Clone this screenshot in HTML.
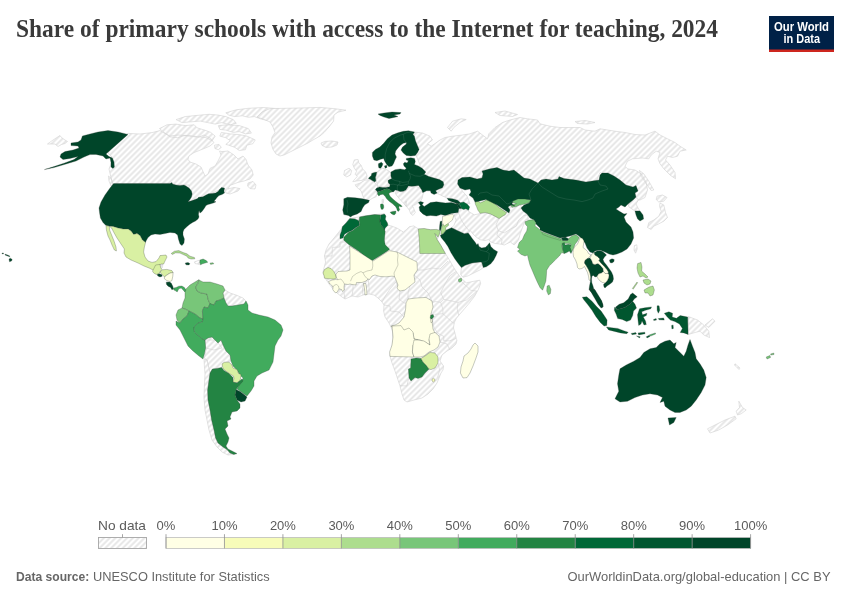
<!DOCTYPE html>
<html lang="en"><head><meta charset="utf-8">
<title>Share of primary schools with access to the Internet for teaching, 2024</title>
<style>
html,body{margin:0;padding:0;background:#fff;}
body{width:850px;height:600px;overflow:hidden;position:relative;font-family:"Liberation Sans",sans-serif;}
svg{position:absolute;left:0;top:0;}
.title{font-family:"Liberation Serif",serif;font-weight:bold;font-size:24.5px;fill:#3a3a3a;}
.lg{font-family:"Liberation Sans",sans-serif;font-size:13px;fill:#5b5b5b;}
.ft{font-family:"Liberation Sans",sans-serif;font-size:12.8px;fill:#666;}
.ftb{font-weight:bold;}
.logo{font-family:"Liberation Sans",sans-serif;font-weight:bold;font-size:12px;fill:#fff;}
.nd{fill:url(#hatch);stroke:#d2d2d2;stroke-width:0.6;stroke-linejoin:round;}
.bd{fill:none;stroke:#d2d2d2;stroke-width:0.6;}
.bi{fill:none;stroke:#2f3b33;stroke-opacity:0.45;stroke-width:0.5;}
.bl{fill:none;stroke:#fff;stroke-opacity:0.18;stroke-width:0.5;}
.c{stroke:#2f3b33;stroke-opacity:0.55;stroke-width:0.5;stroke-linejoin:round;}
</style></head>
<body>
<svg width="850" height="600" viewBox="0 0 850 600">
<defs>
<pattern id="hatch" patternUnits="userSpaceOnUse" width="4.1" height="4.1" patternTransform="rotate(-45 2 2)">
<rect width="4.1" height="4.1" fill="#fff"/>
<path d="M -1,2.05 l 7,0" stroke="#e5e5e5" stroke-width="1.8"/>
</pattern>
</defs>
<rect width="850" height="600" fill="#fff"/>
<text class="title" x="16" y="37.4" textLength="702" lengthAdjust="spacingAndGlyphs">Share of primary schools with access to the Internet for teaching, 2024</text>
<g>
<rect x="769" y="16" width="65" height="36" fill="#002147"/>
<rect x="769" y="49.5" width="65" height="2.5" fill="#ce261e"/>
<text class="logo" x="774" y="30.5" textLength="55" lengthAdjust="spacingAndGlyphs">Our World</text>
<text class="logo" x="783.5" y="42.8" textLength="36.5" lengthAdjust="spacingAndGlyphs">in Data</text>
</g>
<g id="map">
<path class="nd" d="M128,133.4 L140,134 L152,132.6 L160,130.6 L164,133 L170,136 L178,135 L190,136 L198,137.4 L204,135 L210,138 L214,142.6 L210,146 L204,148.6 L194,152.6 L189,156 L188,159.4 L190,162 L196,164 L201,167 L203,171.4 L205,176 L208,174 L210,168.4 L215,166 L218,161 L221,155 L219.6,151 L222,151.6 L228,151 L234,155 L238,159 L243,156 L246,159.4 L248,165 L252,170 L253.2,175 L250,179 L244,181 L238,182.4 L230,185.4 L228,189 L234,187.4 L240,188.6 L238,191 L230,194 L226,193 L225,189 L221,189 L204,197 L189,202 L189,185 L113,185 L111.6,180 L110.4,175 L109,169 L111,164 L112,157 L108,153 L110,149Z M159.5,128.6 L167,124.8 L176.1,124.1 L185.1,125.6 L194.2,124.8 L197.2,127.9 L204.7,130.1 L210.7,132.4 L215.2,136.1 L212.2,140.7 L206.2,137.7 L200.2,136.9 L192.7,136.1 L185.1,135.4 L177.6,137.7 L170.1,136.9 L164,132.4Z M176.1,119.6 L185.1,116.6 L200.2,115.1 L209.2,114.3 L218.3,115.1 L225.8,116.6 L233.3,119.6 L236.3,123.3 L230.3,124.8 L221.3,122.6 L215.2,124.1 L207.7,122.6 L200.2,121.1 L191.1,121.8 L182.1,122.6Z M225.8,112.8 L236.3,109.8 L248.4,108.3 L263.4,107.5 L278.5,108.7 L275.5,112.8 L271,118.1 L266.4,120.3 L260.4,118.8 L254.4,116.6 L248.4,117.3 L242.3,115.8 L234.8,116.6 L228.8,115.1Z M218.3,125.6 L227.3,124.8 L239.3,125.6 L248.4,128.6 L251.4,133.1 L245.4,133.9 L239.3,131.6 L233.3,132.4 L225.8,130.1 L219.8,129.4Z M221.3,132.4 L230.3,133.9 L239.3,134.6 L246.9,136.1 L255.2,139.9 L252.9,143.7 L246.9,145.2 L245.4,149.7 L239.3,150.5 L234.8,147.4 L228.8,145.2 L225.8,144.4 L230.3,140.7 L225.8,137.7 L219.8,136.1Z M214.5,145.2 L219,144.4 L221.3,147.4 L218.3,149.7 L214.9,148.5Z M248,183 L253,181.4 L256,185 L255,189 L250,188.6 L247.6,186Z M108.4,176 L111,178 L113,184 L111,186 L109,181Z"/>
<path class="nd" d="M257,117 L262,112 L270,108.6 L300,108 L320,107.4 L334,108.6 L346,110.2 L338,112.2 L334,115 L333.6,121 L329,127 L324,132.6 L320,136 L314,139.4 L308,143 L300,147 L292,151 L284,155 L280,156 L276,154 L273,149.4 L271,143 L272,137 L275,132.6 L273,127 L270,122 L264,119.4Z"/>
<path class="nd" d="M321,143 L325,141.4 L332,141 L338,142 L337,145 L332,147 L326,147.4 L322,145.4Z"/>
<path class="nd" d="M413.8,132 L422.5,133 L430,136.2 L432.5,140 L427.5,143.8 L431.2,146.2 L440,140 L445,137.5 L452.5,136.2 L462.5,135 L470,133.8 L477.5,131.2 L482.5,135 L487.5,138.8 L488.8,133.8 L495,127.5 L502.5,122.5 L510,120 L520,117.5 L527.5,118.8 L537.5,120 L540,123.8 L550,126.2 L560,127.5 L570,127.5 L580,127.5 L585,130 L595,131.2 L600,128.8 L615,131.2 L625,132.5 L635,134.5 L645,135 L655,131.2 L660,135 L667.5,138.8 L675,142.5 L680,146.2 L686.2,150 L680,151.2 L677.5,156.2 L672.5,157.5 L667.5,156.2 L665.5,160 L670,165 L675,172.5 L675.5,178.8 L670,175 L663.8,168.8 L660,163.8 L658,158.8 L660,152.5 L656.2,151.2 L651.2,155 L648.8,158.8 L642.5,158 L632.5,158.8 L627.5,161.2 L625,166.2 L627.5,168.8 L635,170 L641.2,173.8 L646.2,182.5 L647.5,190 L645,197.5 L640,200 L635,200 L625,190 L600,172.5 L595,185 L560,182.5 L537.5,185 L495,172.5 L460,186.2 L462.5,191.2 L467,196.2 L470,203.8 L457.5,202.5 L447,198 L435,192.5 L430,190 L420,185 L420,165 L415,152.5Z M447.5,127.5 L452.5,121.2 L461.2,118.8 L466.2,119.5 L460,122.5 L453.8,127.5 L451.2,131.2Z M495,112.5 L505,111 L517.5,114.5 L512.5,116.5 L500,115.5Z M575,121.5 L585,120.5 L595,122.5 L587.5,124 L577.5,123.5Z M639.5,170.5 L643.8,173.8 L648.8,181.2 L653.8,190 L651.2,190.5 L646.2,183.8 L641.2,176.2Z"/>
<path class="nd" d="M657,196.2 L662.5,195 L667,197.5 L663.8,201.2 L658.8,202 L656.2,199.5Z M660,203 L663.8,205 L665.5,212.5 L667.5,217.5 L663.8,221.2 L658.8,223.8 L653.8,226.2 L651.2,229.5 L647.5,227.5 L648.8,222.5 L653.8,220 L658.8,216.2 L661.2,211.2 L659.5,206.2Z"/>
<path class="nd" d="M628,204 L633,200 L636,197 L638.4,200 L636,204 L638,208 L640,211 L635,211 L632,209 L629,207Z"/>
<path class="nd" d="M634.4,245.6 L636.8,244.8 L637.2,249 L635.6,253.2 L634,250Z"/>
<path class="nd" d="M354.3,159.9 L358.1,159.5 L358.8,162.9 L361.1,165.2 L362.6,168.9 L365.6,172 L367.1,175.7 L366.4,178.7 L362.6,180.2 L356.6,181 L352.8,181.7 L355.1,178.7 L357.3,176.5 L355.1,174.2 L356.6,171.2 L354.3,168.2 L352.8,164.4Z M344.5,170.5 L349,168.2 L351.7,170.5 L350.5,175 L346.8,176.9 L343.8,175Z"/>
<path class="nd" d="M359.6,183.3 L364.8,180.2 L370.1,179.5 L375.4,183.3 L377.7,186.3 L376.9,188.5 L375.8,190.8 L376.9,193.8 L376.1,196.8 L372.4,198.3 L368.6,200.6 L364.1,199.1 L362.6,195.3 L361.1,190.8 L356.6,187 L355.1,184.8Z M381.9,199.8 L383.4,199.5 L383.5,203.1 L382.2,203.1Z"/>
<path class="nd" d="M376.9,172 L382.2,168.2 L385.2,168.9 L390.5,172 L391.2,175.7 L392,178.7 L389.7,179.5 L388.2,181.7 L389.7,184 L388.2,186.3 L383.7,187 L378.4,187 L376.9,183.3 L376.1,180.2 L375.8,177.2 L376.9,174.2Z"/>
<path class="nd" d="M396.5,190.8 L403.3,192 L407,190 L408.5,187 L415.3,186.3 L419.8,187.8 L422.1,190 L423.6,192.3 L422.8,195.3 L422.1,198.3 L420.6,201.3 L418.3,202.1 L418.3,202.6 L415.3,204.8 L412.3,205.6 L413.8,208.6 L415.3,212.4 L413,215.4 L410.8,213.9 L409.3,210.1 L407,207.1 L404.8,204.1 L406.3,201.1 L406.3,206.6 L404,203.6 L400.2,199.8 L397.2,196.1 L395,193Z"/>
<path class="nd" d="M688.2,316.5 L697.5,320 L703.8,325 L708.8,331.2 L709.5,337.5 L703.8,335 L700,331.2 L695,332.5 L688.2,334.5Z M705,325 L712.5,318.8 L715,321.2 L708.8,327.5Z"/>
<path class="nd" d="M738.8,401.2 L742.5,407.5 L746.2,410 L741.2,413.8 L737.5,415 L736.2,411.2 L739.5,407.5Z M707.5,428.8 L715,425 L725,420 L735,416.2 L736.2,418.8 L727.5,425 L718.8,430 L710,433Z"/>
<path class="nd" d="M735,363.8 L740,368 L739,369.5 L734.5,365Z"/>
<path class="nd" d="M349.8,218.4 L359.6,216.9 L374.6,214.6 L384.4,213.9 L385.9,216.1 L385.2,219.2 L387.4,222.9 L387.9,225.2 L391.2,225.9 L397.2,228.2 L403.3,232 L406.3,229.7 L409.3,226.7 L413.8,225.9 L418.3,228.9 L430.4,229.7 L440.2,230.5 L438.6,236.5 L437.1,239.5 L440.9,245.5 L445.4,253.5 L450,261 L454,268 L458,274 L461,278 L466.3,282.8 L473.8,281.3 L479.8,280.2 L480.6,283.6 L478.3,289.6 L474.5,296.4 L469.3,303.1 L464.8,308.4 L460.2,313.7 L456.5,318.2 L454.2,322.7 L453.5,328 L455,333.3 L456.5,339.3 L457,340 L456,344 L452,348 L447,351 L442,355 L440,361 L443.6,366 L443,370 L441,373 L439,378 L437,383 L433,389 L428,394 L422,398 L414,400 L407,402 L404,400 L402,394 L400,386 L398,380 L395,371 L392,363 L390,356.4 L390,354.6 L392,347 L393,339 L392.4,331 L391,327 L389,323 L385,317 L383.6,311 L384,305 L382,302 L378,298 L374,295 L369,294 L363,295 L358,297 L352,296 L345,299 L342,297 L337,293 L333,289 L329,284 L325,278 L323,272 L324,268 L325.6,262 L324.4,256 L326,250 L329,244 L334,238Z"/>
<path class="nd" d="M225,290 L230,293 L236,295 L243,298 L246,301 L244,304 L238,305 L232,306 L228,306 L226,303 L224,298 L223,293Z"/>
<path class="nd" d="M205,340 L221,340 L223,345 L226,351 L230,355 L231,361 L227,362 L223,363 L221.6,367.6 L217,368.4 L212.4,369 L210,373 L207,360 L204.4,358 L206,350Z M205,340 L208,338 L212,337 L218,343 L222,348 L214,350 L205.6,348Z"/>
<path class="nd" d="M204,359 L207,360 L210,373 L209,380 L207.6,390 L208,400 L210,410 L211.6,420 L214,430 L215.6,438 L218,443 L223,447 L227,449.6 L230,453 L234,454.4 L228,455 L222,452 L217,447 L212,440 L209,430 L207,420 L205,410 L204,398 L204.4,386 L205,374 L204.4,366Z"/>
<path class="nd" d="M194.4,261.9 L196.9,261 L200,260 L199.8,262.5 L200.6,264.8 L197.5,264 L195,263.5Z"/>
<path class="nd" d="M160.6,264.4 L162.8,263.8 L162.5,267.5 L161,268.5Z"/>
<path class="nd" d="M453.9,214.8 L458.4,212.6 L460.7,208.8 L465.2,208.8 L468.2,211.1 L470.5,212.6 L474.2,214.8 L478,214.1 L480.2,213.3 L485.5,212.6 L490.8,214.1 L495.3,216.4 L499.1,218.6 L502.1,216.4 L505.1,214.8 L506.6,212.6 L508.9,209.6 L510.4,206.6 L511.9,207.3 L519.4,205.1 L522.4,206.6 L525.4,211.1 L527.7,214.8 L528.4,219.4 L525.4,220.1 L522.4,227.7 L520.2,233.7 L518.6,239.7 L516.4,242.7 L514.1,245 L510.4,242 L504.3,245 L501.3,244.2 L495.3,243.5 L490.8,242 L488.5,239.7 L484.8,240.5 L480.2,239.7 L476.5,237.4 L472.7,233.7 L470.5,230.7 L468.2,232.9 L464.4,233.7 L457.7,230.7 L451.6,227.7 L453.9,225.4 L456.1,220.1Z"/>
<path class="nd" d="M461.4,267.6 L465.2,265.3 L472,263 L480.2,262 L481.7,262.3 L483.3,267.6 L480.2,269.8 L474.2,272.8 L468.2,275.8 L462.9,277.3 L460.7,274.3Z"/>
<path class="nd" d="M47.5,144 L53,140 L60,135.5 L61.5,137.5 L65,140 L67.5,141.5 L65,143.5 L61.5,144.5 L58,146.5 L55,144 L51,144Z"/>
<path class="bd" d="M369,294 L369,287 L368,278"/>
<path class="bd" d="M363,295 L362.4,289 L363.6,283.4"/>
<path class="bd" d="M352,296 L353,289 L353,284"/>
<path class="bd" d="M345,299 L344,293 L345,286"/>
<path class="bd" d="M384,305 L390,306 L390.4,311 L399,312 L404,317"/>
<path class="bd" d="M396,282 L400,291 L399,299 L404,303 L406,303"/>
<path class="bd" d="M382,302 L386,295 L390,289 L396,282"/>
<path class="bd" d="M410,286 L408,293 L408,299"/>
<path class="bd" d="M414,275 L420,280 L422,287 L428,293 L432,301"/>
<path class="bd" d="M417.4,270 L424,270 L432,268 L440,269 L448,261"/>
<path class="bd" d="M324.4,256 L332,256 L332.4,247.4 L340,247 L340,242 L350,242"/>
<path class="bd" d="M440,342 L447,344 L450,350"/>
<path class="bd" d="M438,363 L439.6,370 L437.6,377.6"/>
<path class="bd" d="M400,385.6 L407,386 L408.4,379"/>
<path class="bd" d="M442.9,313.7 L434.6,314.4"/>
<path class="bd" d="M432.4,319.7 L433.9,327.2 L437.7,333.3 L443.7,336.3 L443.7,340.8 L449.7,340.8 L456,338.5"/>
<path class="bd" d="M440.7,302.4 L442.9,309.2 L442.9,313.7 L452.7,322.7 L454.5,323"/>
<path class="bd" d="M443.7,299.4 L440.7,302.4 L436.1,301.6 L430.1,302.4"/>
<path class="bd" d="M458,302.4 L451.2,300.9 L443.7,299.4 L440.7,292.6 L445.2,283.6 L449.7,276 L455.7,271.5"/>
<path class="bd" d="M461.7,282 L467,286.6 L470.8,290.3 L476.8,291.1 L466.3,300.1 L458,302.4 L457.2,309.2 L458.7,315.2"/>
<path class="bd" d="M498.3,230.7 L504.3,232.9 L510.4,229.2 L516.4,226.1 L518.6,220.1 L523.9,215.6 L527.7,214.8"/>
<path class="bd" d="M499.1,218.6 L496.1,224.6 L498.3,230.7 L496.8,235.2 L502.1,239.7 L501.3,244.2"/>
<path class="bd" d="M458.4,212.6 L461.4,220.1 L465.2,226.1 L469.7,231.4"/>
<path class="c" fill="#004529" d="M128,134.4 L118,132 L108,130.6 L98,132 L90,134 L82.4,136 L81,140 L78,142 L71,143 L71,145.6 L78,146 L79,148 L73,150 L65,151.6 L61,154 L60,157 L63,159.6 L70,158.4 L78,156.6 L74,159.6 L64,163.2 L54,166.6 L44.4,169.6 L54,167.6 L66,164 L76,161 L84,157 L90,154.6 L96,154.4 L103,156 L106,159 L110,158 L111,162.4 L111,167 L113,168.4 L114.4,167 L114,162 L112.4,158 L109,156.6 L106,154Z"/>
<path class="c" fill="#004529" d="M113.6,183.6 L169,183.4 L170,183.5 L172,182.5 L172.5,184 L176,185 L180,185.5 L184,185 L186,186 L189,188 L191.5,191 L192.2,194 L191.5,197 L190,199.5 L188,201.8 L191.5,200.8 L195,199.5 L197.5,198.5 L198.5,197.2 L203,196.8 L206,195 L208.5,193.8 L212,193.5 L215.5,193 L218,191.5 L219.5,189.5 L221.5,187.5 L224.5,188 L224,191 L224.5,193 L222,194.5 L219,195.5 L217,197.5 L215.5,199.5 L214,201.2 L216,201.8 L214,202.8 L210,204 L208,204.5 L206,205.5 L204.5,208 L202,211.5 L200,213 L199,210.5 L198.5,214.5 L199,217 L198,219 L195.5,221 L192.5,222.5 L189.5,224.5 L186.5,227 L184,229.5 L183,232 L183,235 L184.4,239 L184,243 L182,245.6 L180,244 L178.4,239 L177.6,235 L175,233 L170,232.4 L165,233.6 L160,234.4 L155,234 L151,235 L148,237.6 L146,241 L145.6,242.4 L142.4,240 L140,235.6 L137,233.6 L133.6,234.4 L131,231 L128,229 L123,229 L118,228 L113,226.4 L106,225.6 L103,222.4 L100.4,218 L99.6,213 L99,208 L101,202 L105,195 L110,188Z"/>
<path class="c" fill="#d9f0a3" d="M109.4,226.4 L113,226.4 L118,228 L123,229 L128,229 L131,231 L133.6,234.4 L137,233.6 L140,235.6 L142.4,240 L145.6,242.4 L144.4,247 L143.6,252 L145,257 L148,261 L152,262.4 L156,261.6 L159,258 L160,255.6 L166,255 L167,257 L165,261 L163.6,264 L161,264 L159,265.6 L157,265.6 L155.6,268 L153.6,270.4 L150,268.4 L144,266 L138,263 L131,260 L126,257 L124,253 L124.4,249 L121,244 L117,238 L113.6,232 L111.6,228Z M106,225.6 L109.4,226.4 L109.6,230 L111.6,235 L114,241 L116,247 L116.4,251 L114.4,250 L112,245 L110,240 L108,236 L106.4,230Z"/>
<path class="c" fill="#004529" d="M378,114 L384,113 L392,112 L401,112.6 L400,114 L394,115 L398,116.6 L394,117.4 L389,118.6 L384,117 L380,115.4Z"/>
<path class="c" fill="#004529" d="M403.3,131.3 L408.5,130.8 L414.5,132 L413,134.3 L414.5,136.6 L415.3,140.3 L416.8,144.1 L419.1,149.4 L417.6,152.4 L415.3,155.4 L410.8,156.1 L406.3,155.4 L403.3,153.1 L401,150.1 L402.5,147.1 L406.3,144.1 L406.3,142.6 L403.3,143.3 L400.2,145.6 L398,147.9 L395.7,150.9 L395,153.9 L396.5,156.9 L395,159.9 L393.5,163.7 L392,165.9 L388.9,166.7 L386.7,164.4 L384.4,160.7 L383.7,158.4 L380.7,159.2 L376.9,160.7 L373.9,159.9 L372.4,156.1 L372.4,152.4 L375.4,149.4 L379.9,147.1 L383.7,143.3 L387.4,138.8 L392,135.1 L398,132.8Z"/>
<path class="c" fill="#004529" d="M406.3,158.4 L410.8,157.7 L414.5,158.4 L415.3,161.4 L414.5,164.4 L418.3,165.9 L422.1,168.2 L425.8,172 L424.3,174.2 L428.9,176.5 L434.1,178 L439.4,179.5 L443.2,181.7 L443.9,184.8 L442.4,187.8 L438.6,189.3 L435.6,190.8 L437.1,193 L434.1,194.5 L431.1,193 L430.4,190.8 L426.6,190.8 L423.6,192.3 L422.6,192.6 L421.8,190.1 L420.1,187.6 L418.5,185.5 L415.1,185.9 L411.8,186.3 L408.4,185.9 L407.2,188 L405.9,190.1 L403.4,191.3 L400.1,191.6 L397.6,190.5 L395.1,190.1 L393.8,191.7 L391.7,191.9 L390.9,190.2 L389.6,189.8 L387.1,188.8 L384.6,189.2 L382.1,190.5 L379.6,191.3 L377.5,191.9 L375.4,189.6 L376.7,188 L379.6,186.9 L382.5,187.4 L385.9,187.6 L389.6,186.7 L390.1,184.6 L388.4,183 L388,180.5 L390.1,179.2 L391.7,178.8 L390.9,175.9 L390.9,172.1 L395,169.7 L400.2,168.9 L404.8,169.7 L406.3,168.2 L404,165.9 L403.3,163.7 L404.8,162.2 L407,162.9 L408.5,160.7 L406.3,159.9Z"/>
<path class="c" fill="#004529" d="M378.4,163.7 L381.4,162.2 L382.9,163.7 L382.2,165.9 L380.7,168.2 L378.9,167.9 L378.4,165.9Z M384.4,165.9 L386.7,165.2 L387,167.4 L385.2,168.2Z"/>
<path class="c" fill="#004529" d="M371.7,173.4 L374.2,172.4 L376.7,172.1 L376.3,174.6 L375.4,177.5 L375.9,180.5 L375,182.1 L372.9,180.9 L370.8,179.6 L368.3,178.4 L369.6,177.1 L371.3,175.4Z"/>
<path class="c" fill="#004529" d="M343.8,198.8 L347.5,197.3 L355.1,197.8 L362.6,198.8 L369.4,200.3 L368.6,202.6 L364.8,204.8 L362.6,207.9 L361.1,211.6 L357.3,213.9 L352.8,215.4 L350.5,216.9 L348.3,215.4 L343.8,214.6 L342.7,210.1 L343.8,204.8Z"/>
<path class="c" fill="#238443" d="M377.5,192.2 L379.6,191.3 L382.1,190.5 L384.6,189.2 L387.1,188.8 L389.6,189.8 L390.9,190.2 L391.9,191.9 L390.1,192.6 L388.8,193.8 L390.1,196.3 L392.6,198.8 L395.5,201.3 L398.4,203.4 L400.9,205.1 L402.2,206.4 L400.9,206.8 L399.3,205.9 L398.8,207.6 L399.7,209.7 L398.4,211.4 L397.2,210.5 L396.7,208.4 L395.5,206.4 L392.6,203.8 L389.2,201.3 L386.7,198.8 L385.1,196.3 L383,194.2 L380.5,194.7 L378.8,195.9 L377.5,194.2Z M390.1,212.2 L392.6,211.4 L395.9,211.1 L395.7,213.5 L394.2,215 L391.7,213.9Z M380.5,204.3 L382.1,203.8 L383.5,204.7 L383.8,207.2 L383,209.3 L381.3,209.3 L380.5,206.8Z"/>
<path class="c" fill="#006837" d="M349.8,218.4 L355.1,218.9 L358.8,220.7 L359.6,225.2 L355.8,227.4 L352,230.5 L348.3,232 L344.5,234.2 L343,238 L340,238.7 L340,235 L341.5,231.2 L342.3,226.7 L346,222.9Z"/>
<path class="c" fill="#238443" d="M359.6,216.9 L365.6,215.8 L374.6,214.6 L380.7,214.9 L379.9,220.7 L380.7,224.4 L383.7,228.2 L385.2,231.2 L384.4,240.2 L385.2,244.8 L389.7,249.3 L386.7,251.5 L378.4,256.8 L371.6,261 L368.6,259.1 L358.1,250.8 L349,244.8 L343.8,240.2 L343.8,237.2 L348.3,232.4 L352.8,230.5 L356.3,227.4 L359.9,225.2 L359.1,220.7Z"/>
<path class="c" fill="#006837" d="M381,214.9 L384.4,213.9 L385.9,216.1 L385.2,219.2 L387.4,222.9 L387.9,225.2 L385.2,227.9 L384.4,230.5 L383.4,227.9 L380.7,224.4 L379.9,220.7Z"/>
<path class="c" fill="#addd8e" d="M418.3,228.9 L424.3,228.5 L430.4,229.7 L436.4,229.4 L440.2,230.5 L439.4,234.2 L437.9,237.2 L436.4,235 L434.9,233.5 L437.1,239.5 L440.9,245.5 L445.4,253.5 L419.8,253.5 L419.5,243.3Z"/>
<path class="c" fill="#004529" d="M418.3,202.6 L420.6,201.4 L423.6,202.6 L422.1,204.8 L424.3,206.4 L430.4,202.6 L436.4,201.8 L445.4,202.9 L451.4,202.6 L456.7,204.1 L459,207.9 L458.2,212.4 L451.4,213.4 L445.4,215.4 L440.9,214.6 L436.4,216.1 L430.4,215.4 L426.6,216.1 L422.8,213.9 L419.8,210.9 L419.1,207.1 L420.6,205.6Z"/>
<path class="c" fill="#004529" d="M440.2,221.4 L441.8,221 L441.8,225.2 L440.6,230.5 L439.4,229.7 L439.7,225.2Z"/>
<path class="c" fill="#addd8e" d="M442.4,224.4 L447.7,222.2 L448.7,225.2 L445.4,227.9 L446.2,230.5 L442.4,234.2 L440.9,234.2 L441.2,229.7Z"/>
<path class="c" fill="#004529" d="M446.4,229.9 L451.6,227.7 L457.7,230.7 L464.4,233.7 L468.2,232.9 L470.5,235.9 L472,238.2 L475,242 L476.9,245 L478,243.5 L479,246.5 L481.7,248 L485.5,247.2 L487.8,245 L489.6,242.7 L490.8,246.5 L493.8,249.5 L497.6,251.7 L496.1,255.5 L493.8,260 L490.8,263.8 L486.3,266.8 L483.3,267.6 L481.7,262.3 L480.2,262 L472,263 L465.2,265.3 L461.4,267.6 L458.4,263.8 L454.6,258.5 L450.9,252.5 L447.9,246.5 L444.8,242 L441.1,237.4 L440.3,235.2 L443.3,233.7Z"/>
<path class="c" fill="#addd8e" d="M475,202 L478,200.8 L480.2,202.8 L484,201.3 L486.3,199.8 L490.8,201.3 L495.3,204.3 L499.8,208.1 L504.3,211.1 L506.6,212.6 L505.1,214.8 L502.1,216.4 L499.1,218.6 L495.3,216.4 L490.8,214.1 L485.5,212.6 L480.2,213.3 L478,210.3 L476.5,206.6 L475.4,204.3Z"/>
<path class="c" fill="#78c679" d="M511.9,199.8 L517.9,198.3 L525.4,198.7 L531.4,199.8 L529.2,202.8 L523.9,204.3 L519.4,205.1 L516.4,206.6 L511.9,207.3 L510.4,205.1 L514.1,204.3 L516.4,203.6 L512.6,202.8Z"/>
<path class="c" fill="#004529" d="M458,180 L462,177.6 L470,177 L477,179 L482,178 L483,174 L482,171 L489,169 L497,167.6 L503,170 L509,171 L514,170 L519,174 L524,178 L530,179 L534,181 L538,183 L541,180 L546,179 L552,180 L558,179 L559,176.6 L564,178.6 L576,180 L586,182 L592,181 L599,180 L600,175 L602,173 L608,173 L614,176 L620,180 L626,185 L633,187 L636,185.6 L638,191 L635,193 L636,197 L633,200 L628,204 L625,207 L621,205 L619,207 L616,209 L619,211 L624,214 L627,213.6 L624,217 L626,222 L631,227 L633,232 L633.6,238 L631,244 L627,249 L622,252 L617,254 L613,255 L609,254 L605,252 L600,250 L595,251 L593,253 L590,252 L587,248 L585,243 L582,239 L579,236 L576,234 L573,235 L570,236 L566,237 L560,238 L552,235 L544,232 L540,230 L540,228 L536,224 L534,220 L530,218 L527,214 L523,211 L521,208 L524,205 L529,203 L531,200 L525,199 L518,199 L513,201 L512,204 L515,206 L511,205 L508,207 L510,210 L509,213 L506,211 L503,209 L497,205 L491,202 L486,199.6 L480,201 L475,202 L473,198 L469,195 L471,192 L470,189 L465,190 L460,188 L457.6,184Z"/>
<path class="c" fill="#004529" d="M635,211 L640,211 L643,215 L643.6,219 L640,221 L637.6,219 L636,215Z"/>
<path class="c" fill="#addd8e" d="M637.6,263.6 L641,262.4 L642,267 L641.6,271 L645,274 L648,277 L646,278 L643,276 L640,277 L638,273 L637,268Z M643,280 L648,279 L651,281 L650,284 L647,285 L644,283Z M644,290 L649,287 L653,286 L654.4,290 L653,295 L650,296 L648,293 L645,293Z M632.4,288.4 L637,282 L637.6,282.8 L633.2,289.2Z"/>
<path class="c" fill="#78c679" d="M525,221.7 L529.2,220.1 L533.4,219.7 L535.9,222.6 L535,225.9 L538.4,228.4 L541.7,231.8 L548.4,234.3 L555.1,236.8 L560.9,238.8 L562.6,240.4 L567.6,240.4 L568.5,238.8 L571.8,235.9 L576,234.8 L579.3,237.6 L577.6,240.9 L575.1,244.3 L573.5,248.5 L571.8,251.8 L570.1,250.1 L569.3,246.8 L571,244.3 L568.5,243.4 L564.3,243.4 L561.8,245.1 L562.6,249.3 L564.3,253.5 L561.8,252.6 L559.3,256 L555.9,259.3 L552.6,262.7 L549.2,266 L546.7,270.2 L546.4,275.2 L545.9,281 L544.2,286 L542.6,290.2 L540.1,287.7 L537.6,282.7 L535,276.9 L532.5,271 L530,265.2 L528.4,259.3 L527.5,255.1 L525,256 L520.8,254.3 L517.5,251 L520,249.3 L517.5,247.6 L519.2,242.6 L522.5,239.3 L524.2,235.1 L526.7,230.9 L527.5,226.7 L525.4,224.2Z M547.1,286 L549.2,285.2 L550.9,289.4 L550.4,293.6 L548.4,294.9 L546.7,291.1Z"/>
<path class="c" fill="#238443" d="M562.1,243.4 L564.3,242.6 L565.1,245.1 L568.5,244.3 L571,245.1 L570.1,247.6 L571.8,251.8 L571,253.5 L569.3,251 L566.8,252.6 L564.3,253.5 L562.6,249.3Z"/>
<path class="c" fill="#004529" d="M561.4,238.1 L565.1,237.1 L568.5,238.8 L567.6,240.4 L562.6,240.4Z"/>
<path class="c" fill="#004529" d="M615,398.8 L618.8,391.2 L617.5,383.8 L618.8,375 L620,368.8 L626.2,365 L633.8,361.2 L640,357.5 L643.8,352.5 L650,348.8 L656.2,347.5 L660,343.8 L665,341.2 L670,340 L673.8,343.8 L676.2,342.5 L675,347.5 L678.8,351.2 L683.8,356.2 L686.2,351.2 L688,345 L690,339.5 L692.5,346.2 L695,352.5 L696.2,358.8 L700,363.8 L703.8,370 L706.2,377.5 L705,385 L701.2,392.5 L696.2,400 L691.2,406.2 L686.2,410 L680,412.5 L675,412.5 L670,410 L665,406.2 L663.8,401.2 L660,402.5 L662.5,397.5 L657.5,395 L650,393.8 L642.5,395 L635,397.5 L627.5,401.2 L620,402Z M668,418 L676.2,417.5 L673.8,422.5 L669.5,425Z"/>
<path class="c" fill="#41ab5d" d="M649.3,334.9 L655.3,332.9 L655.6,334 L650.5,336.1Z"/>
<path class="c" fill="#78c679" d="M766.2,357 L770,355.5 L770.5,357.5 L767,359Z M770.5,354 L773.8,353 L774,354.5 L771,355Z"/>
<path class="c" fill="#ffffe5" d="M408,299 L416,298 L426,297.4 L432,301 L433,307 L431,314 L432,321 L433,329 L435,333 L431,335 L429,340 L430,345 L425,342 L420,340 L414,339 L413,333 L409,329 L404,331 L401,327 L392,327.4 L391,326 L395,325 L399,323 L404,317 L405.6,309 L406,303Z"/>
<path class="c" fill="#ffffe5" d="M392,326 L401,325.6 L404,330 L409,328 L413,332 L414,339 L418,340 L413,345 L412.4,352 L414,357 L390,356.4 L389.6,352 L392,345 L393,337 L392.4,330Z"/>
<path class="c" fill="#ffffe5" d="M414,340 L418,340 L424,341 L430,345 L429,339 L430,334 L435,332.4 L439,336 L440,342 L438,347 L434,350 L429,352 L424,356 L420,357 L414,357 L412.4,352 L413,345Z"/>
<path class="c" fill="#238443" d="M411,359 L416,358 L421,358.4 L423,362 L426,365 L429,369 L425,373 L422,377 L418,378.4 L415,377.6 L411,381 L409,378 L408.4,369 L410.6,368Z"/>
<path class="c" fill="#d9f0a3" d="M421,358.4 L425,356 L430,352.4 L435,353 L438,357 L438,363 L435,368 L431,369.6 L429,369 L426,365 L423,362Z"/>
<path class="c" fill="#f7fcb9" d="M432,379.2 L433.4,378.2 L434.8,379.2 L434.8,381 L433.4,382 L432,381Z"/>
<path class="c" fill="#ffffe5" d="M475,343 L478,346 L478,352 L476,358 L473,366 L470,373 L467,377.6 L463,378 L460.4,373 L461,367 L463,361 L464,356 L468,353 L471,349 L473,345Z"/>
<path class="c" fill="#238443" d="M430.6,315.2 L433.1,314.4 L433.9,316.7 L431.9,318.9 L430.1,318.2Z"/>
<path class="c" fill="#ffffe5" d="M430.6,318.9 L432.2,318.9 L432.5,322 L431,322.7Z"/>
<path class="c" fill="#78c679" d="M458.7,279 L461.4,278.3 L462,280.8 L459.9,282.3 L458.4,281.3Z"/>
<path class="c" fill="#78c679" d="M185,290 L190,285 L195,282 L199,279.6 L198,283 L195.6,287 L197,291 L201,293 L207,294 L208,299 L210,304 L208,308 L204,307 L202.4,311 L203,319 L200,318 L195,314 L189,311 L185,309 L182,308 L183,303 L185,298Z"/>
<path class="c" fill="#78c679" d="M199,280 L203,282 L210,282 L217,284 L223,286 L225,290 L223,293 L224,298 L220,300 L216,301 L214,305 L210,304 L208,299 L207,294 L201,293 L197,291 L195.6,287 L198,283.6Z"/>
<path class="c" fill="#78c679" d="M178,310 L182,308 L185,309 L189,311 L187,316 L183,319 L180,323 L177,320 L176,315Z"/>
<path class="c" fill="#41ab5d" d="M176,321 L180,323 L183,319 L187,316 L189,311 L195,314 L200,318 L203,319 L202.4,322 L198,323 L194,327 L194.4,332 L199,336 L202,339 L205,340 L205.6,348 L204.4,354 L203,359 L199,356 L193,351 L188,346 L184,338 L180,330 L176,325Z"/>
<path class="c" fill="#41ab5d" d="M202.4,311 L204,307 L208,308 L210,303.6 L214,305 L216,301 L220,300 L224,298 L226,303 L228,306 L232,306 L238,305 L244,304 L246,301 L248,305 L248,310 L252,313 L259,315 L268,317 L275,320 L281,325 L283,330 L281,336 L278,340 L278,340 L275,346 L274,354 L273,362 L269,370 L262,373 L257,376 L254,381 L254,386 L251,391 L247,396 L244,394 L240,391 L237,389 L239,385 L242,381 L243,378 L240,375 L237,370 L233,366 L231,361 L230,355 L226,351 L223,345 L221,340 L218,343 L212,337 L208,338 L205,340 L202,339 L199,336 L194.4,332 L194,327 L198,323 L202.4,322 L203,319Z"/>
<path class="c" fill="#d9f0a3" d="M222,364 L224.5,362.2 L229,362.2 L232,365 L233,368 L237,369.5 L238.5,373.5 L241,374.5 L240.5,379 L239,382 L235,382.8 L232.5,381.5 L234,379 L233.5,376 L230,374 L226.5,371.5 L223,368.5Z"/>
<path class="c" fill="#004529" d="M236,389.6 L240,391.6 L244,394.4 L247,397 L245,401 L241,402 L237,400 L235,395Z"/>
<path class="c" fill="#238443" d="M212.4,369 L217,368.4 L221.6,367.6 L224,370.4 L229,373.6 L233,377.6 L233,382 L237,383 L242,379 L243,381 L239,385.6 L236.4,389 L235,395 L237,400 L240,404 L240,408 L237,411 L232,412 L230,417 L231,419 L227,421 L228,426 L225,429 L227,434 L229,438 L228,442 L226,446 L228,449 L232,451 L237,453.6 L234,454.4 L230,453 L227,449.6 L223,447 L218,443 L215.6,438 L214,430 L211.6,420 L210,410 L208,400 L207.6,390 L209,380 L210,373Z"/>
<path class="c" fill="#addd8e" d="M171.2,253.5 L174.4,251.2 L178.8,250.6 L183.1,252.5 L186.9,253.8 L190,256.2 L194.4,257.5 L194.8,258.8 L191.2,259 L188.1,258.1 L186.9,256.2 L183.8,254.8 L180,253.1 L175.6,252.8 L172.5,254.4Z"/>
<path class="c" fill="#004529" d="M185.2,263.1 L188.1,262.5 L190,263.8 L188.8,265 L186,264.8Z"/>
<path class="c" fill="#41ab5d" d="M200,260 L203.1,259 L206.2,260.6 L207.8,262.2 L205,263.1 L202.5,263.8 L200.6,264.8 L199.8,262.5Z"/>
<path class="c" fill="#78c679" d="M210,263.1 L213.1,262.8 L213.8,263.8 L210.6,264.4Z"/>
<path class="c" fill="#d9f0a3" d="M152.5,271.2 L155.6,265 L160,264.4 L160.6,267.5 L161.9,269.4 L160,271.9 L158.8,273.8 L156.2,274.4 L153.8,273.1Z"/>
<path class="c" fill="#d9f0a3" d="M160,271.9 L162.5,269.8 L166.9,269.4 L171.9,270.6 L173.1,272.5 L170,273.1 L166.9,275 L164.4,276.9 L163.1,275.6 L161.9,274 L160.6,273.1Z"/>
<path class="c" fill="#004529" d="M157.2,274.4 L159.4,273.8 L161.9,274.8 L162.2,276.2 L160,276.9 L157.8,276Z"/>
<path class="c" fill="#ffffe5" d="M164.4,277.2 L166.9,275 L170,273.1 L173.1,272.5 L172.8,276.2 L171.9,280.6 L170,281.5 L166.9,280.6 L164.4,278.8Z"/>
<path class="c" fill="#004529" d="M166.2,282.2 L169.4,281.9 L171.2,283.1 L172.8,286.2 L173.5,289 L171.9,289.8 L170.6,287.5 L168.1,286.2 L166.5,284.4Z"/>
<path class="c" fill="#41ab5d" d="M173.5,288.1 L176.2,287.5 L178.8,286.2 L181.9,286 L184.4,287.5 L186,290 L184.8,291.9 L183.1,290 L181.2,288.1 L178.8,288.8 L177.2,291.9 L175.2,290.6 L173.8,290Z"/>
<path class="c" fill="#d9f0a3" d="M323,273 L324.5,269.5 L328,267.5 L331,268.5 L333.5,271 L335.5,274.5 L336.5,278 L334,279 L329,278.8 L324.5,278.2 L324,275.5Z"/>
<path class="c" fill="#ffffe5" d="M349.6,246 L373,261 L389,250.6 L397,252 L417,262 L417.4,270 L414,275 L415,282 L410,286 L405,290 L400,291 L399,290.5 L397,288 L398,285 L396,280 L394.5,276.5 L392,276.2 L386,276.8 L380,276.5 L375,275 L372,276 L369.5,279.5 L368,279 L366,281 L362,282.5 L356.5,282.5 L356,285 L352,284.5 L350,284 L348,284.5 L344.5,284 L344,287 L344.2,290 L342.5,291.5 L341.5,289.5 L339.5,289 L339,289 L337.5,291.5 L336,293 L334,291.5 L332.8,289.5 L333,287 L331.5,285 L329.5,283.5 L328.5,281.5 L332,280 L335.5,279.5 L338,279.7 L336.5,278 L335.8,274.5 L338,271.5 L347,271 L350,270 L350,255Z"/>
<path class="c" fill="#ffffe5" d="M363.5,283.5 L365.8,283.5 L366.5,288 L367,294.5 L365,295 L364.5,289Z"/>
<path class="c" fill="#ffffe5" d="M580,237.5 L582.5,238.5 L584,241 L583.5,244.5 L583,247.5 L585.5,249.5 L587.5,251.5 L588.5,253.5 L591,255 L589.5,257 L587.5,258.5 L585,260.5 L584.5,263 L586.5,266 L588.5,269.5 L590,273 L590.8,277 L590.5,281 L589,280 L588.5,276 L587.5,272.5 L585.5,268.5 L584.5,266.5 L582,268.5 L579,269 L577.5,267.5 L577,264 L575.5,260 L573.5,256.5 L573,252.5 L573.5,249 L575,246.5 L577.5,244 L579,240.5Z"/>
<path class="c" fill="#004529" d="M585,260.5 L587.5,258.5 L590,258 L591.5,260 L593,264 L595,264.5 L598,263.5 L600.5,265.5 L603,268.5 L603.5,271.5 L601.5,273 L598.5,274 L597,276.5 L595,277 L593.5,275.5 L592,276 L591.5,279 L591.8,282.5 L593,286 L594,289.8 L589,289.8 L589.5,286 L590.5,281 L590.8,277 L590,273 L588.5,269.5 L586.5,266 L584.5,263Z M589.2,289 L594.4,289 L596,294 L598,296 L601,300 L603,305 L602,308 L599,304 L596,299 L593,294 L590,291Z"/>
<path class="c" fill="#ffffe5" d="M591.5,254.5 L593.5,253 L595,255 L597.5,256.5 L600,259 L599,260.5 L601,263 L604,266 L607,269.5 L608.5,272 L608,273.5 L605,273.5 L603.5,271.5 L603,268.5 L600.5,265.5 L598,263.5 L595,264.5 L593,264 L591.5,260 L590,258 L591,256.2Z"/>
<path class="c" fill="#004529" d="M594,252.5 L597,251 L600,250.5 L602.5,251.5 L605,253.5 L606.5,255 L604.5,257 L603,259.5 L604,262 L606.5,265 L609,268.5 L611.5,272 L613,275.5 L613.5,279 L612.5,282 L610,284 L607,286 L605,288 L604,287 L603.5,284.5 L605,283 L607,281 L608.5,278 L609,275 L608,273.5 L608.5,272 L607,269.5 L604,266 L601,263 L599,260.5 L600,259 L597.5,256.5 L595,255Z"/>
<path class="c" fill="#ffffe5" d="M598.5,274 L601.5,273 L603.5,271.5 L605,273.5 L608,273.5 L609,275 L608.5,278 L607,281 L605,283 L602.5,282.5 L600,281 L598,278.5 L597.2,276.5Z"/>
<path class="c" fill="#004529" d="M609.5,260 L612,258.8 L614.2,259.5 L614,261.5 L612,263 L610,262.5Z"/>
<path class="c" fill="#004529" d="M447.1,198.3 L452.4,198.7 L457.7,200.2 L460.4,202.8 L458.4,203.9 L456.1,203.3 L452.4,202 L448.6,200.5Z"/>
<path class="c" fill="#004529" d="M456.1,203.3 L458.4,203.9 L460.4,205.8 L461.4,208.4 L459.5,208.8 L457.7,206.6Z"/>
<path class="c" fill="#006837" d="M460.4,202.8 L463.7,202 L467.4,204.3 L469.7,206.9 L468.5,210.3 L465.9,208.8 L463.7,209.6 L461.4,208.4 L460.4,205.8 L458.4,203.9Z"/>
<path class="c" fill="#ffffe5" d="M442.6,216.4 L447.1,215.3 L452.4,214.1 L453.9,215.6 L452.4,220.1 L448.6,223.1 L444.1,226.1 L442.3,222.4Z"/>
<path class="c" fill="#004529" d="M9,259 L10.5,258.2 L12.2,259.5 L11.5,261 L9.5,261.8Z M5,254.2 L7,254.8 L9.8,256 L9.6,256.8 L7,255.8 L5,255Z M2,253 L3.5,253 L3.5,253.8 L2,253.8Z"/>
<path class="c" fill="#00562f" d="M582.3,297.2 L586.8,296.8 L592,301.3 L596.6,306.6 L601.1,311.1 L604.8,316.4 L607.1,320.1 L606.8,325.4 L604.1,326.1 L600.3,322.4 L595.8,316.4 L592,310.3 L587.5,304.3 L583.8,299.8Z M606.4,326.9 L611.6,327.7 L617.7,328.4 L623.7,330.7 L628.2,332.2 L626.7,333.7 L620.7,332.9 L614.6,331.4 L608.6,329.9Z M631.2,333.4 L635.7,332.6 L636.5,334 L632,334.7Z M638,332.9 L644.8,332.2 L645.1,333.7 L638.7,334.9Z M636.5,335.9 L640.2,336.7 L639.5,337.9Z M646.3,336.7 L649.3,335.2 L650,336.4 L647,337.9Z M614.6,307.3 L616.9,309.6 L620.7,308.8 L625.2,307.3 L629.7,304.3 L632.7,301.3 L635,304.3 L636.5,308.1 L633.5,311.1 L632.7,315.6 L630.5,320.1 L626.7,321.6 L622.2,319.4 L617.7,318.6 L616.1,314.1 L614.3,310.3Z M639.5,308.8 L644.8,307.8 L651.5,306.9 L650.8,308.8 L645.5,310.3 L641.7,311.8 L642.5,314.8 L647,313.3 L646.3,315.6 L643.3,317.1 L645.5,320.9 L646.3,324.6 L644,324.9 L642,320.9 L641,323.9 L638.7,325.4 L638,320.1 L637.5,314.8Z M657.1,305.8 L659.1,305.8 L659.8,310.3 L658.3,313.3 L657.1,310.3Z M653.5,319.4 L656.1,318.6 L656.5,320.1 L653.8,320.6Z M658.3,318.6 L663.6,317.9 L664.3,320.1 L659.1,319.8Z M664.3,313.3 L668.9,311.8 L672.6,313.3 L672.2,317.1 L676.4,318.3 L680.2,315.6 L687.7,317.1 L688.1,334.4 L683.9,332.9 L680.2,332.5 L682.4,328.4 L679.4,323.9 L674.9,321.6 L670.4,320.1 L667.3,317.1Z M671.6,325.4 L673.1,324.9 L673.4,328.4 L671.9,328.9Z"/>
<path class="c" fill="#004529" d="M615.4,307.3 L619.2,304.3 L623.7,302.8 L628.2,299 L630.5,294.5 L632.7,293 L637.2,296.8 L634.2,299 L632.7,301.3 L629.7,304.3 L625.2,307.3 L620.7,308.8 L616.9,309.6Z"/>
<path class="c" fill="#004529" d="M590.2,289.2 L595.1,290 L598.8,296 L601.8,301.3 L603.3,306.6 L601.1,308.1 L598.1,304.3 L595.1,299 L592,293.8Z"/>
<path class="bi" d="M372.5,261 L372.8,266 L372,270 L367,271 L363,272.8"/>
<path class="bi" d="M350.5,281.2 L352.5,276.5 L356.5,273.5 L361,271.5 L363,272.8 L365,276.5 L368,279"/>
<path class="bi" d="M397,252 L398,255 L397.5,260 L398,265 L396,269 L394,273 L394.5,276.5"/>
<path class="bi" d="M338,279.7 L341,279 L343,281.5 L344.5,284"/>
<path class="bi" d="M333,287 L334.5,285 L336.5,284.5 L338.5,286 L339,289"/>
<path class="bi" d="M541.7,232.1 L542.6,234.3 L548.4,236.8 L555.1,238.8 L560.4,240.4 L560.9,238.8"/>
<path class="bl" d="M538,183 L542,187 L550,192 L558,197 L566,199 L574,200 L582,201.6 L588,200 L593,198 L595,194 L602,191 L608,189 L606,186 L600,185 L598,181 L599,179"/>
<path class="bl" d="M538,183 L535,186 L532,189 L529,194 L531,200"/>
<path class="bl" d="M478,195 L480,193 L487,192 L492,195 L499,196 L503,200 L507,204 L510,203 L513,201"/>
<path class="bl" d="M385.2,160.7 L385.2,154.6 L386.7,148.6 L389.7,142.6 L394.2,138.1 L400.2,135.1 L403.3,134.3 L404,139.6 L406.3,142.6"/>
<path class="bl" d="M403.3,134.3 L406.3,132.8 L410.8,132 L413,134.3"/>
<path class="bl" d="M391.7,178.8 L395.1,180.5 L399.3,181.3 L402.6,182.5 L408.4,181.7 L410.1,178.8 L410.5,176.3 L409.3,173.4 L408.4,170.8"/>
<path class="bl" d="M390.1,184.6 L393.4,184.2 L397.6,185.1 L400.1,183.8 L399.3,181.3"/>
<path class="bl" d="M397.6,185.1 L401.8,185.5 L405.9,184.6 L408.4,183.8 L408.4,181.7"/>
<path class="bl" d="M397.6,185.1 L397.2,188 L397.6,190.5"/>
<path class="bl" d="M409.3,173.4 L415.1,175.9 L420.1,176.3 L425.2,174.2"/>
<path class="bl" d="M479,246.5 L480.2,250.2 L486.3,251.7 L488.5,249.5 L487.8,245"/>
<path class="bl" d="M486.3,251.7 L489.3,253.3 L488.5,259.3 L486.3,261.5 L481.7,262.3"/>
<path class="bl" d="M347,200 L348,204 L347,208 L347.5,212.5"/>
</g>
<g id="legend">
<text class="lg" x="98" y="530" textLength="48" lengthAdjust="spacingAndGlyphs">No data</text>
<rect x="98.5" y="537.5" width="48" height="11" fill="url(#hatch)" stroke="#a5a5a5" stroke-width="0.9"/>
<line x1="122.5" y1="534.2" x2="122.5" y2="537.5" stroke="#8f8f8f" stroke-width="0.8"/>
<rect x="166.00" y="537.6" width="58.76" height="10.8" fill="#ffffe5"/>
<rect x="224.46" y="537.6" width="58.76" height="10.8" fill="#f7fcb9"/>
<rect x="282.92" y="537.6" width="58.76" height="10.8" fill="#d9f0a3"/>
<rect x="341.38" y="537.6" width="58.76" height="10.8" fill="#addd8e"/>
<rect x="399.84" y="537.6" width="58.76" height="10.8" fill="#78c679"/>
<rect x="458.30" y="537.6" width="58.76" height="10.8" fill="#41ab5d"/>
<rect x="516.76" y="537.6" width="58.76" height="10.8" fill="#238443"/>
<rect x="575.22" y="537.6" width="58.76" height="10.8" fill="#006837"/>
<rect x="633.68" y="537.6" width="58.76" height="10.8" fill="#00562f"/>
<rect x="692.14" y="537.6" width="58.76" height="10.8" fill="#004529"/>
<rect x="166.00" y="537.6" width="584.60" height="10.8" fill="none" stroke="#b5b5b5" stroke-width="0.7"/>
<line x1="166.00" y1="534.2" x2="166.00" y2="548.4" stroke="#8f8f8f" stroke-width="0.8"/>
<line x1="224.46" y1="534.2" x2="224.46" y2="548.4" stroke="#8f8f8f" stroke-width="0.8"/>
<line x1="282.92" y1="534.2" x2="282.92" y2="548.4" stroke="#8f8f8f" stroke-width="0.8"/>
<line x1="341.38" y1="534.2" x2="341.38" y2="548.4" stroke="#8f8f8f" stroke-width="0.8"/>
<line x1="399.84" y1="534.2" x2="399.84" y2="548.4" stroke="#8f8f8f" stroke-width="0.8"/>
<line x1="458.30" y1="534.2" x2="458.30" y2="548.4" stroke="#8f8f8f" stroke-width="0.8"/>
<line x1="516.76" y1="534.2" x2="516.76" y2="548.4" stroke="#8f8f8f" stroke-width="0.8"/>
<line x1="575.22" y1="534.2" x2="575.22" y2="548.4" stroke="#8f8f8f" stroke-width="0.8"/>
<line x1="633.68" y1="534.2" x2="633.68" y2="548.4" stroke="#8f8f8f" stroke-width="0.8"/>
<line x1="692.14" y1="534.2" x2="692.14" y2="548.4" stroke="#8f8f8f" stroke-width="0.8"/>
<line x1="750.60" y1="534.2" x2="750.60" y2="548.4" stroke="#8f8f8f" stroke-width="0.8"/>
<text class="lg" x="166.0" y="530" text-anchor="middle">0%</text>
<text class="lg" x="224.5" y="530" text-anchor="middle">10%</text>
<text class="lg" x="282.9" y="530" text-anchor="middle">20%</text>
<text class="lg" x="341.4" y="530" text-anchor="middle">30%</text>
<text class="lg" x="399.8" y="530" text-anchor="middle">40%</text>
<text class="lg" x="458.3" y="530" text-anchor="middle">50%</text>
<text class="lg" x="516.8" y="530" text-anchor="middle">60%</text>
<text class="lg" x="575.2" y="530" text-anchor="middle">70%</text>
<text class="lg" x="633.7" y="530" text-anchor="middle">80%</text>
<text class="lg" x="692.1" y="530" text-anchor="middle">90%</text>
<text class="lg" x="750.6" y="530" text-anchor="middle">100%</text>
</g>
<text class="ft ftb" x="16" y="581" textLength="73.3" lengthAdjust="spacingAndGlyphs">Data source:</text>
<text class="ft" x="93" y="581" textLength="176.7" lengthAdjust="spacingAndGlyphs">UNESCO Institute for Statistics</text>
<text class="ft" x="567.5" y="581" textLength="263" lengthAdjust="spacingAndGlyphs">OurWorldinData.org/global-education | CC BY</text>
</svg>
</body></html>
